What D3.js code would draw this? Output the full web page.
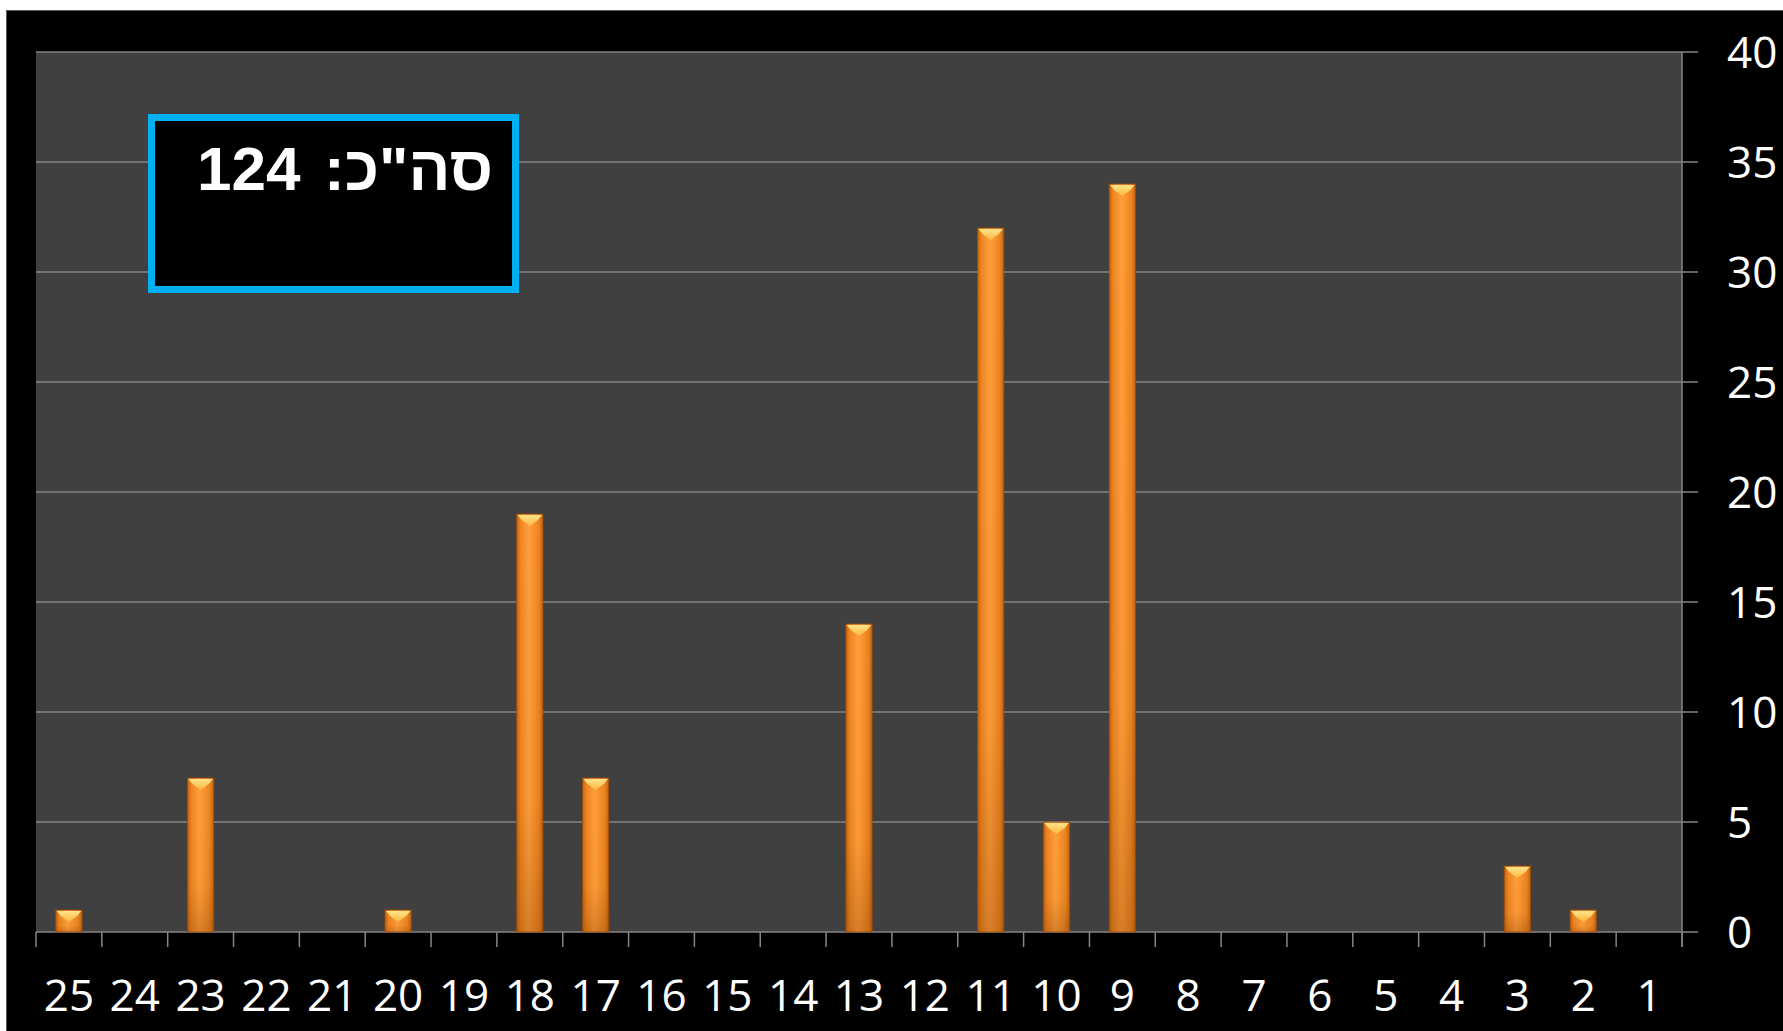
<!DOCTYPE html>
<html>
<head>
<meta charset="utf-8">
<script src="https://cdn.jsdelivr.net/npm/d3@7"></script>
<style>
  html, body { margin: 0; padding: 0; background: #ffffff; }
  svg { display: block; }
</style>
</head>
<body>
<svg id="chart" width="1783" height="1031"></svg>
<script>
const categories = ["25","24","23","22","21","20","19","18","17","16","15","14","13","12","11","10","9","8","7","6","5","4","3","2","1"];
const values = [1,0,7,0,0,1,0,19,7,0,0,0,14,0,32,5,34,0,0,0,0,0,3,1,0];
const yTicks = [0,5,10,15,20,25,30,35,40];
const totalLabel = 'סה"כ:';
const totalValue = "124";

const W = 1783, H = 1031;
const plot = { left: 36, right: 1682, top: 52, bottom: 932 };

const svg = d3.select("#chart");
const defs = svg.append("defs");

const gH = defs.append("linearGradient").attr("id", "barH").attr("x1", "0").attr("x2", "1").attr("y1", "0").attr("y2", "0");
[["0%", "#c4620e"], ["14%", "#ee8420"], ["45%", "#ff9f3c"], ["60%", "#fb9632"], ["86%", "#ea8220"], ["100%", "#c15f0e"]]
  .forEach(([o, c]) => gH.append("stop").attr("offset", o).attr("stop-color", c));
const gV = defs.append("linearGradient").attr("id", "barV").attr("x1", "0").attr("x2", "0").attr("y1", "0").attr("y2", "1");
[["0%", "#7a3a00", 0], ["70%", "#7a3a00", 0.05], ["100%", "#7a3a00", 0.3]]
  .forEach(([o, c, a]) => gV.append("stop").attr("offset", o).attr("stop-color", c).attr("stop-opacity", a));
const gT = defs.append("linearGradient").attr("id", "barT").attr("x1", "0").attr("x2", "0").attr("y1", "0").attr("y2", "1");
[["0%", "#ffe48a"], ["100%", "#ffb640"]]
  .forEach(([o, c]) => gT.append("stop").attr("offset", o).attr("stop-color", c));

svg.append("rect").attr("x", 0).attr("y", 0).attr("width", W).attr("height", H).attr("fill", "#ffffff");
svg.append("rect").attr("x", 6.5).attr("y", 10.5).attr("width", W - 6).attr("height", H - 10)
  .attr("fill", "#000000").attr("stroke", "#5a5a5a").attr("stroke-width", 1);

const x = d3.scaleBand().domain(categories).range([plot.left, plot.right]).paddingInner(0.6).paddingOuter(0.3);
const xb = d3.scaleBand().domain(categories).range([plot.left, plot.right]).padding(0);
const y = d3.scaleLinear().domain([0, 40]).range([plot.bottom, plot.top]);

svg.append("rect").attr("x", plot.left).attr("y", plot.top)
  .attr("width", plot.right - plot.left).attr("height", plot.bottom - plot.top).attr("fill", "#404040");

svg.append("g").selectAll("line").data(yTicks).join("line")
  .attr("x1", plot.left).attr("x2", plot.right + 16)
  .attr("y1", d => y(d)).attr("y2", d => y(d))
  .attr("stroke", "#858585").attr("stroke-width", 1.5);

svg.append("line").attr("x1", plot.right).attr("x2", plot.right)
  .attr("y1", plot.top).attr("y2", plot.bottom + 15)
  .attr("stroke", "#858585").attr("stroke-width", 1.5);

const bounds = categories.map(c => xb(c)).concat([plot.right]);
svg.append("g").selectAll("line").data(bounds).join("line")
  .attr("x1", d => d).attr("x2", d => d)
  .attr("y1", plot.bottom).attr("y2", plot.bottom + 15)
  .attr("stroke", "#858585").attr("stroke-width", 1.5);

const data = categories.map((c, i) => ({ c, v: values[i] })).filter(d => d.v > 0);
const bars = svg.append("g").selectAll("g").data(data).join("g");
bars.append("rect")
  .attr("x", d => x(d.c)).attr("y", d => y(d.v))
  .attr("width", x.bandwidth()).attr("height", d => y(0) - y(d.v))
  .attr("fill", "url(#barH)").attr("stroke", "#9a4c0c").attr("stroke-width", 1).attr("stroke-opacity", 0.7);
bars.append("rect")
  .attr("x", d => x(d.c)).attr("y", d => y(d.v))
  .attr("width", x.bandwidth()).attr("height", d => y(0) - y(d.v))
  .attr("fill", "url(#barV)");
bars.append("path")
  .attr("d", d => {
    const x0 = x(d.c) + 1, x1 = x(d.c) + x.bandwidth() - 1, yt = y(d.v) + 1;
    const xc = (x0 + x1) / 2;
    return `M${x0},${yt} L${x1},${yt} L${x1 - 4},${yt + 5} L${xc},${yt + 11} L${x0 + 4},${yt + 5} Z`;
  })
  .attr("fill", "url(#barT)");

svg.append("g").selectAll("text").data(categories).join("text")
  .attr("x", d => xb(d) + xb.bandwidth() / 2)
  .attr("y", 1011)
  .attr("text-anchor", "middle")
  .attr("font-family", "'Open Sans', sans-serif")
  .attr("font-size", 44)
  .attr("fill", "#ffffff")
  .text(d => d);

svg.append("g").selectAll("text").data(yTicks).join("text")
  .attr("x", 1727)
  .attr("y", d => y(d) + 16)
  .attr("text-anchor", "start")
  .attr("font-family", "'Open Sans', sans-serif")
  .attr("font-size", 44)
  .attr("fill", "#ffffff")
  .text(d => d);

svg.append("rect").attr("x", 151.5).attr("y", 117.5).attr("width", 364).attr("height", 172)
  .attr("fill", "#000000").attr("stroke", "#00b0f0").attr("stroke-width", 7);
svg.append("text")
  .attr("x", 493).attr("y", 190)
  .attr("direction", "rtl")
  .attr("text-anchor", "start")
  .attr("font-family", "'Liberation Sans', Arial, sans-serif")
  .attr("font-weight", "bold")
  .attr("font-size", 62)
  .attr("fill", "#ffffff")
  .text(totalLabel);
svg.append("text")
  .attr("x", 197).attr("y", 190)
  .attr("text-anchor", "start")
  .attr("font-family", "'Liberation Sans', Arial, sans-serif")
  .attr("font-weight", "bold")
  .attr("font-size", 62)
  .attr("fill", "#ffffff")
  .text(totalValue);
</script>
</body>
</html>
